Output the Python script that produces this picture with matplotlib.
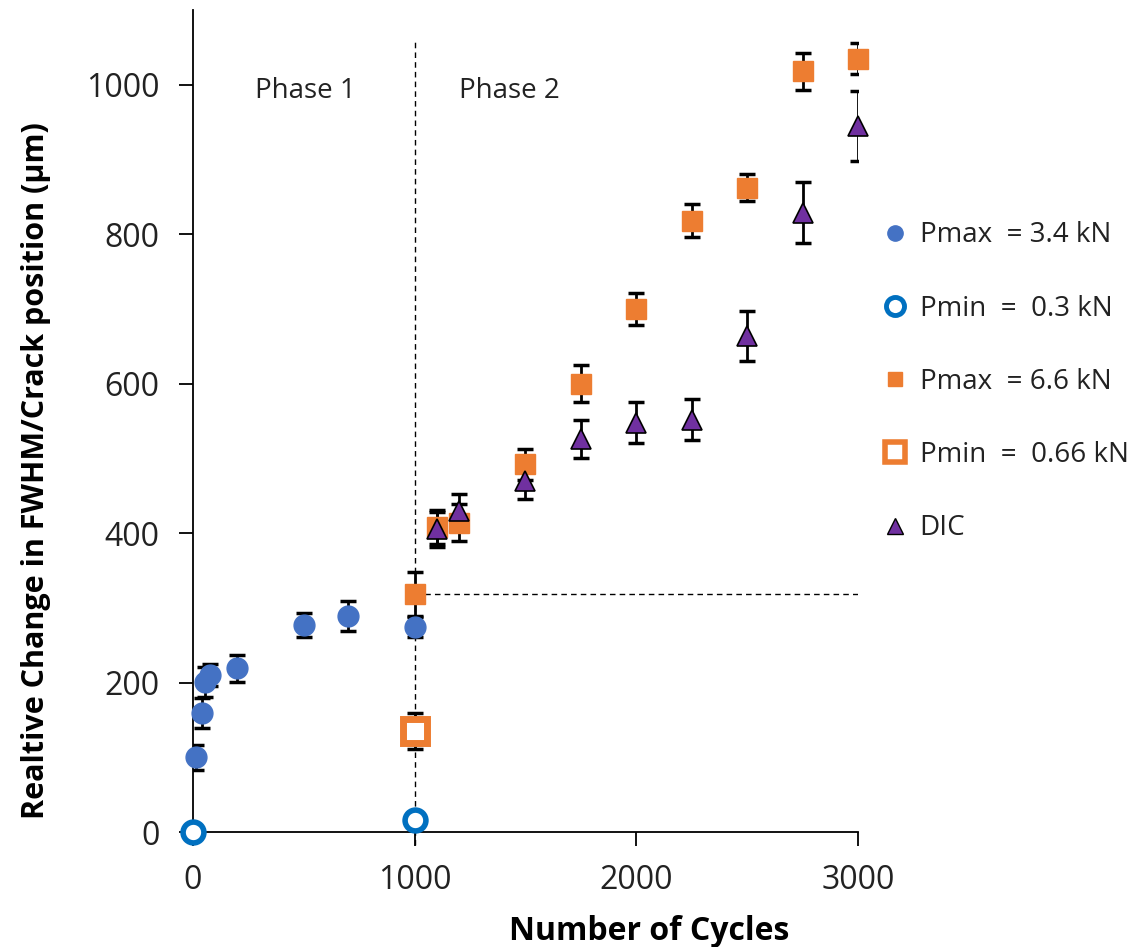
import matplotlib
matplotlib.use("Agg")
import matplotlib.pyplot as plt
from matplotlib.lines import Line2D

# ---- data ----
pmax34_x = [15, 40, 55, 75, 200, 500, 700, 1000]
pmax34_y = [100, 159, 201, 210, 219, 277, 289, 275]
pmax34_err = [17, 20, 20, 15, 18, 16, 20, 14]

pmin03_x = [0, 1000]
pmin03_y = [0, 16]

pmax66_x = [1000, 1100, 1200, 1500, 1750, 2000, 2250, 2500, 2750, 3000]
pmax66_y = [318, 408, 414, 492, 600, 700, 818, 862, 1018, 1035]
pmax66_err = [30, 23, 25, 21, 25, 21, 22, 18, 25, 21]

pmin066_x = [1000]
pmin066_y = [135]
pmin066_err = [24]

dic_x = [1100, 1200, 1500, 1750, 2000, 2250, 2500, 2750, 3000]
dic_y = [405, 430, 470, 526, 548, 552, 664, 829, 945]
dic_err = [23, 22, 24, 26, 27, 28, 33, 41, 47]

phase_boundary = 1000
phase2_level = 318

labels = ["Pmax  = 3.4 kN", "Pmin  =  0.3 kN", "Pmax  = 6.6 kN", "Pmin  =  0.66 kN", "DIC"]

blue = "#4472C4"
blue_open = "#0070C0"
orange = "#ED7D31"
purple = "#7030A0"

fig = plt.figure(figsize=(11.45, 9.47), dpi=100)
ax = fig.add_axes([0.1686, 0.1214, 0.5807, 0.868])
ax.set_xlim(0, 3000)
ax.set_ylim(0, 1100)

ekw = dict(fmt="none", ecolor="black", elinewidth=2, capsize=6, capthick=2.5, zorder=2)
ax.errorbar(pmax34_x, pmax34_y, yerr=pmax34_err, **ekw)
ax.errorbar(pmax66_x, pmax66_y, yerr=pmax66_err, **ekw)
ax.errorbar(pmin066_x, pmin066_y, yerr=pmin066_err, **ekw)
ax.errorbar(dic_x, dic_y, yerr=dic_err, **ekw)

# dashed guide lines
ax.plot([phase_boundary, phase_boundary], [-17, 1058], ls=(0, (4, 3)), color="black", lw=1, clip_on=False, zorder=1)
ax.plot([phase_boundary, 3000], [phase2_level, phase2_level], ls=(0, (4, 3)), color="black", lw=1, zorder=1)

ax.plot(pmax34_x, pmax34_y, "o", ls="none", ms=15, color=blue, mec=blue, zorder=3, clip_on=False)
ax.plot(pmin03_x, pmin03_y, "o", ls="none", ms=15, mfc="white", mec=blue_open, mew=4, zorder=3, clip_on=False)
ax.plot(pmax66_x, pmax66_y, "s", ls="none", ms=15, color=orange, mec=orange, zorder=3, clip_on=False)
ax.plot(pmin066_x, pmin066_y, "s", ls="none", ms=17, mfc="white", mec=orange, mew=5, zorder=3, clip_on=False)
ax.plot(dic_x, dic_y, "^", ls="none", ms=14, color=purple, mec="black", mew=1.2, zorder=4, clip_on=False)

ax.text(505, 991, "Phase 1", fontsize=20, family="Open Sans", ha="center", va="center", color="#222222")
ax.text(1428, 991, "Phase 2", fontsize=20, family="Open Sans", ha="center", va="center", color="#222222")

for s in ["top", "right"]:
    ax.spines[s].set_visible(False)
for s in ["left", "bottom"]:
    ax.spines[s].set_linewidth(1.3)

ax.set_xticks([0, 1000, 2000, 3000])
ax.set_yticks([0, 200, 400, 600, 800, 1000])
ax.tick_params(axis="y", direction="out", length=10, width=1.3, labelsize=23, pad=14)
ax.tick_params(axis="x", direction="out", length=10, width=1.3, labelsize=23, pad=13)
for lab in ax.get_xticklabels() + ax.get_yticklabels():
    lab.set_family("Open Sans")
    lab.set_color("#222222")

ax.set_xlabel("Number of Cycles", fontsize=23, fontweight="bold", family="Open Sans")
ax.set_ylabel("Realtive Change in FWHM/Crack position (µm)", fontsize=22, fontweight="bold",
              family="Open Sans")
ax.xaxis.set_label_coords(0.686, -0.101)
ax.yaxis.set_label_coords(-0.213, 0.44)

handles = [
    Line2D([], [], marker="o", ls="none", ms=11, color=blue),
    Line2D([], [], marker="o", ls="none", ms=13, mfc="white", mec=blue_open, mew=3.5),
    Line2D([], [], marker="s", ls="none", ms=10, color=orange),
    Line2D([], [], marker="s", ls="none", ms=14, mfc="white", mec=orange, mew=4),
    Line2D([], [], marker="^", ls="none", ms=12, color=purple, mec="black", mew=1),
]
leg = fig.legend(handles, labels, loc="upper left", bbox_to_anchor=(0.757, 0.778),
                 frameon=False, prop={"family": "Open Sans", "size": 20},
                 labelspacing=1.63, handletextpad=0.3, handlelength=1.2, borderaxespad=0)
for t in leg.get_texts():
    t.set_color("#222222")

fig.savefig("out.png", dpi=100)
